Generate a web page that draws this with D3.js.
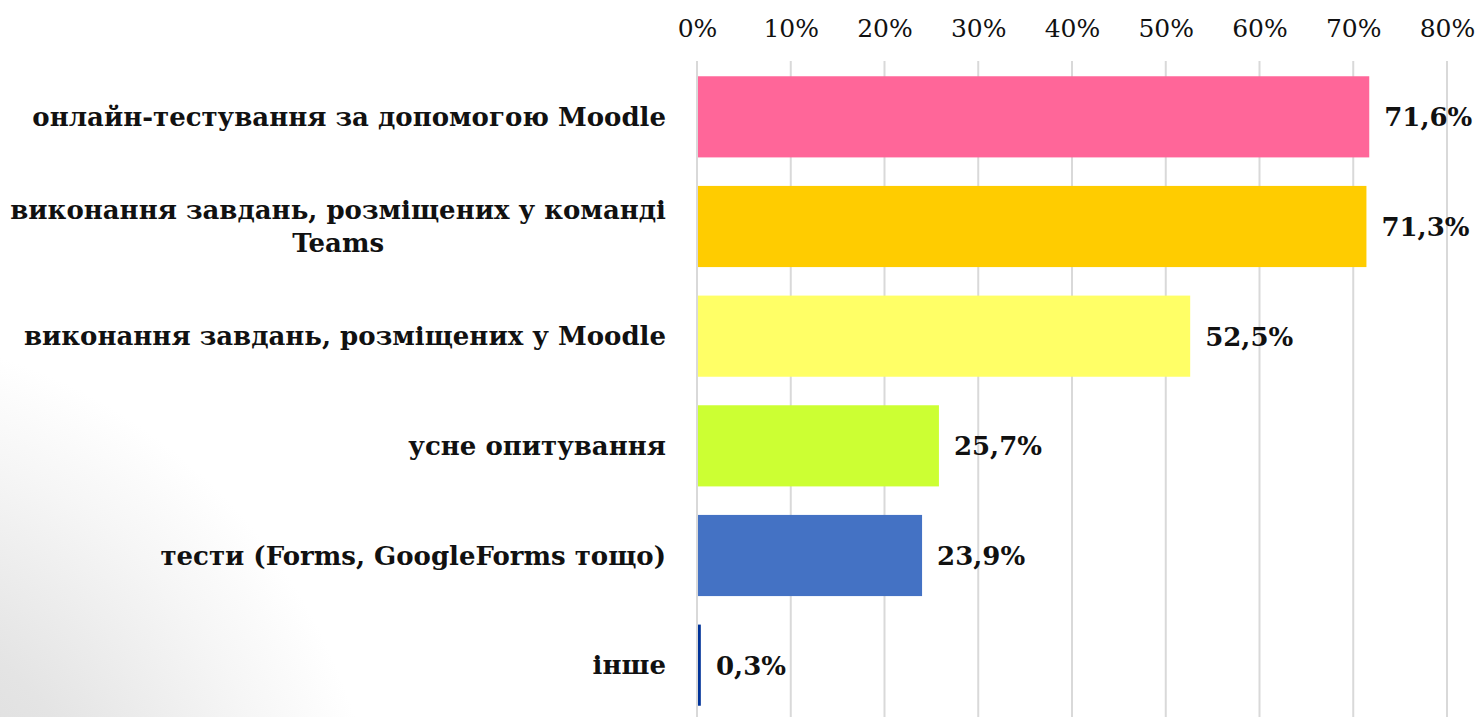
<!DOCTYPE html>
<html>
<head>
<meta charset="utf-8">
<script src="https://cdn.jsdelivr.net/npm/d3@7"></script>
<style>
  html, body { margin: 0; padding: 0; background: #fff; }
  svg { display: block; }
</style>
</head>
<body>
<svg id="chart"></svg>
<script>
    const categories = [
        'онлайн-тестування за допомогою Moodle',
        'виконання завдань, розміщених у команді Teams',
        'виконання завдань, розміщених у Moodle',
        'усне опитування',
        'тести (Forms, GoogleForms тощо)',
        'інше'
    ];
    // label lines as they are wrapped in the picture
    const labelLines = [
        ['онлайн-тестування за допомогою Moodle'],
        ['виконання завдань, розміщених у команді', 'Teams'],
        ['виконання завдань, розміщених у Moodle'],
        ['усне опитування'],
        ['тести (Forms, GoogleForms тощо)'],
        ['інше']
    ];
    const values = [71.6, 71.3, 52.5, 25.7, 23.9, 0.3];
    const barColors = ['#FF6699', '#FFCC00', '#FFFF66', '#CCFF33', '#4472C4', '#003399'];
    const tickValues = [0, 10, 20, 30, 40, 50, 60, 70, 80];

    const width = 1482,
        height = 717,
        margin = {top: 62, left: 697, right: 35, bottom: -3};

    const svg = d3.select('svg#chart')
        .attr('width', width)
        .attr('height', height);

    // slide background: soft grey glow in the lower left corner
    const defs = svg.append('defs');
    const grad = defs.append('radialGradient')
        .attr('id', 'bg-glow')
        .attr('gradientUnits', 'userSpaceOnUse')
        .attr('cx', -170).attr('cy', 880).attr('r', 550);
    grad.append('stop').attr('offset', 0).attr('stop-color', '#d4d4d4');
    grad.append('stop').attr('offset', 0.5).attr('stop-color', '#e4e4e4');
    grad.append('stop').attr('offset', 0.82).attr('stop-color', '#f6f6f6');
    grad.append('stop').attr('offset', 1).attr('stop-color', '#ffffff');

    svg.append('rect')
        .attr('width', width).attr('height', height)
        .attr('fill', 'url(#bg-glow)');

    const x = d3.scaleLinear()
        .domain([0, 80])
        .range([margin.left, width - margin.right]);

    const y = d3.scaleBand()
        .domain(categories)
        .range([margin.top, height - margin.bottom])
        .paddingInner(0.26)
        .paddingOuter(0.13);

    // gridlines
    svg.append('g')
        .selectAll('line')
        .data(tickValues)
        .join('line')
        .attr('x1', d => x(d)).attr('x2', d => x(d))
        .attr('y1', 61).attr('y2', height)
        .attr('stroke', '#d9d9d9')
        .attr('stroke-width', 2);

    // top axis
    const axis = svg.append('g')
        .attr('transform', `translate(0,${margin.top})`)
        .call(d3.axisTop(x).tickValues(tickValues).tickFormat(d => d + '%').tickSize(0).tickPadding(25));
    axis.select('.domain').remove();
    axis.selectAll('text')
        .attr('font-family', '"DejaVu Serif", serif')
        .attr('font-size', 25)
        .attr('fill', '#111');

    // bars
    svg.append('g')
        .selectAll('rect')
        .data(values)
        .join('rect')
        .attr('x', x(0) + 1)
        .attr('y', (d, i) => y(categories[i]))
        .attr('width', d => Math.max(x(d) - x(0), 2.5))
        .attr('height', y.bandwidth())
        .attr('fill', (d, i) => barColors[i]);

    // value labels
    svg.append('g')
        .selectAll('text')
        .data(values)
        .join('text')
        .attr('x', d => Math.max(x(d), x(0) + 3) + 16)
        .attr('y', (d, i) => y(categories[i]) + y.bandwidth() / 2)
        .attr('dy', '0.36em')
        .attr('font-family', '"DejaVu Serif", serif')
        .attr('font-weight', 'bold')
        .attr('font-size', 26)
        .attr('fill', '#111')
        .text(d => d3.format('.1f')(d).replace('.', ',') + '%');

    // category labels, right aligned block, lines centred within it
    const labelRight = 666, lineHeight = 33;
    const labels = svg.append('g')
        .selectAll('text')
        .data(labelLines)
        .join('text')
        .attr('font-family', '"DejaVu Serif", serif')
        .attr('font-weight', 'bold')
        .attr('font-size', 26)
        .attr('fill', '#111')
        .attr('text-anchor', 'middle');

    labels.each(function (lines, i) {
        const t = d3.select(this);
        const cy = y(categories[i]) + y.bandwidth() / 2;
        const spans = t.selectAll('tspan')
            .data(lines)
            .join('tspan')
            .text(d => d);
        let maxW = 0;
        spans.each(function () { maxW = Math.max(maxW, this.getComputedTextLength()); });
        const cx = labelRight - maxW / 2;
        spans
            .attr('x', cx)
            .attr('y', (d, j) => cy + (j - (lines.length - 1) / 2) * lineHeight)
            .attr('dy', '0.35em');
    });
</script>
</body>
</html>
